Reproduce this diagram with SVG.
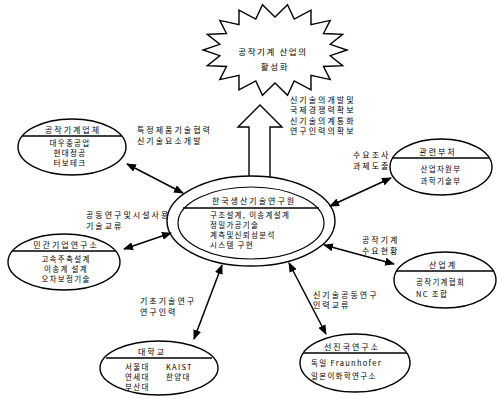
<svg xmlns="http://www.w3.org/2000/svg" width="497" height="399" viewBox="0 0 497 399">
<defs>
  <marker id="ah" viewBox="0 0 10 8" refX="9" refY="4" markerWidth="10" markerHeight="8" markerUnits="userSpaceOnUse" orient="auto-start-reverse">
    <path d="M0,0 L10,4 L0,8 z" fill="#000"/>
  </marker>
  <style>
    text { font-family: "Noto Sans CJK KR", "Noto Sans", sans-serif; fill: #000; }
    .lbl { font-size: 8px; letter-spacing: 2px; }
    .hd { font-size: 8px; letter-spacing: 2px; text-anchor: middle; }
    .bd { font-size: 7.5px; letter-spacing: 1.3px; }
    .bdc { font-size: 7.5px; letter-spacing: 1.3px; text-anchor: middle; }
    .node { fill: #fff; stroke: #000; stroke-width: 1.4; }
    .sep { stroke: #000; stroke-width: 1.4; }
    #connectors line { stroke: #000; stroke-width: 1.5; marker-start: url(#ah); marker-end: url(#ah); }
  </style>
</defs>
<rect width="497" height="399" fill="#fff"/>

<!-- goal starburst -->
<g id="goal">
  <polygon class="node" stroke-width="1.1" points="347,50 330.2,55.7 342.7,65.7 323.5,66.5 330.2,79.6 311,75.3 311,89.8 294.2,81 287.5,95.3 275,83 262.5,95.3 255.8,81 239,89.8 239,75.3 219.8,79.6 226.5,66.5 207.3,65.7 219.8,55.7 203,50 219.8,44.3 207.3,34.3 226.5,33.5 219.8,20.4 239,24.7 239,10.2 255.8,19 262.5,4.7 275,17 287.5,4.7 294.2,19 311,10.2 311,24.7 330.2,20.4 323.5,33.5 342.7,34.3 330.2,44.3"/>
  <text x="273" y="55" font-size="8.5" letter-spacing="1.6" text-anchor="middle">공작기계 산업의</text>
  <text x="275" y="70" font-size="8.5" letter-spacing="1.6" text-anchor="middle">활성화</text>
</g>

<!-- hollow arrow towards the goal -->
<g id="goal-arrow">
  <path class="node" stroke-width="1.2" d="M249,182 L249,127 L238,127 L260,105 L282,127 L270,127 L270,182 Z"/>
</g>
<g id="goal-label" class="lbl" font-size="8.5" letter-spacing="2.6">
  <text x="290" y="103">신기술의개발및</text>
  <text x="290" y="113">국제경쟁력확보</text>
  <text x="290" y="124">신기술의계통화</text>
  <text x="290" y="134">연구인력의확보</text>
</g>

<!-- central institute -->
<g id="center">
  <ellipse class="node" cx="251" cy="221" rx="84" ry="45" stroke-width="2"/>
  <ellipse fill="none" stroke="#000" stroke-width="1.2" cx="251" cy="223" rx="73" ry="36"/>
  <line class="sep" x1="183" y1="208" x2="319" y2="208" stroke-width="2"/>
  <text class="hd" x="254" y="204" letter-spacing="1.6">한국생산기술연구원</text>
  <g class="bd" font-size="7" letter-spacing="1.4">
    <text x="210" y="218">구조설계, 이송계설계</text>
    <text x="210" y="228">정밀가공기술</text>
    <text x="210" y="238">계측및신뢰성분석</text>
    <text x="210" y="248">시스템 구현</text>
  </g>
</g>

<!-- partner nodes -->
<g id="makers">
  <ellipse class="node" cx="72" cy="147" rx="54" ry="28"/>
  <line class="sep" x1="22" y1="136" x2="122" y2="136"/>
  <text class="hd" x="73" y="133">공작기계업체</text>
  <text class="bdc" x="70" y="146">대우중공업</text>
  <text class="bdc" x="70" y="156">현대정공</text>
  <text class="bdc" x="70" y="166">터보테크</text>
</g>

<g id="labs">
  <ellipse class="node" cx="64" cy="262" rx="56" ry="28"/>
  <line class="sep" x1="12" y1="251" x2="116" y2="251"/>
  <text class="hd" x="66" y="248">민간기업연구소</text>
  <text class="bdc" x="66" y="262">고속주축설계</text>
  <text class="bdc" x="66" y="272">이송계 설계</text>
  <text class="bdc" x="66" y="282">오차보정기술</text>
</g>

<g id="univ">
  <ellipse class="node" cx="159" cy="368" rx="59" ry="27"/>
  <line class="sep" x1="106" y1="358" x2="212" y2="358"/>
  <text class="hd" x="152" y="355">대학교</text>
  <g class="bd">
    <text x="125" y="370">서울대</text>
    <text x="166" y="370">KAIST</text>
    <text x="125" y="380">연세대</text>
    <text x="166" y="380">한양대</text>
    <text x="125" y="390">부산대</text>
  </g>
</g>

<g id="foreign">
  <ellipse class="node" cx="355" cy="363" rx="55" ry="29"/>
  <line class="sep" x1="303" y1="353" x2="407" y2="353"/>
  <text class="hd" x="352" y="350">선진국연구소</text>
  <g class="bd">
    <text x="311" y="366">독일 Fraunhofer</text>
    <text x="311" y="379">일본이화학연구소</text>
  </g>
</g>

<g id="industry">
  <ellipse class="node" cx="445" cy="280" rx="51" ry="28"/>
  <line class="sep" x1="396" y1="271" x2="494" y2="271"/>
  <text class="hd" x="443" y="268">산업계</text>
  <g class="bd">
    <text x="416" y="285">공작기계협회</text>
    <text x="416" y="297">NC 조합</text>
  </g>
</g>

<g id="ministry">
  <ellipse class="node" cx="441" cy="167" rx="51" ry="28"/>
  <line class="sep" x1="393" y1="158" x2="489" y2="158"/>
  <text class="hd" x="438" y="155">관련부처</text>
  <text class="bdc" x="441" y="172">산업자원부</text>
  <text class="bdc" x="441" y="184">과학기술부</text>
</g>

<!-- connector labels -->
<g id="labels" class="lbl">
  <text x="137" y="133">특정제품기술협력</text>
  <text x="137" y="144">신기술요소개발</text>
  <text x="86" y="218">공동연구및시설사용</text>
  <text x="86" y="229">기술교류</text>
  <text x="140" y="304">기초기술연구</text>
  <text x="140" y="315">연구인력</text>
  <text x="313" y="298">신기술공동연구</text>
  <text x="313" y="308">인력교류</text>
  <text x="362" y="243">공작기계</text>
  <text x="362" y="254">수요현황</text>
  <text x="353" y="158">수요조사</text>
  <text x="353" y="169">과제도출</text>
</g>

<!-- connectors -->
<g id="connectors">
  <line x1="127" y1="164" x2="183" y2="193"/>
  <line x1="124" y1="249" x2="171" y2="233"/>
  <line x1="222" y1="265" x2="194" y2="339"/>
  <line x1="289" y1="263" x2="326" y2="334"/>
  <line x1="324" y1="245" x2="394" y2="264"/>
  <line x1="330" y1="206" x2="391" y2="178"/>
</g>
</svg>
